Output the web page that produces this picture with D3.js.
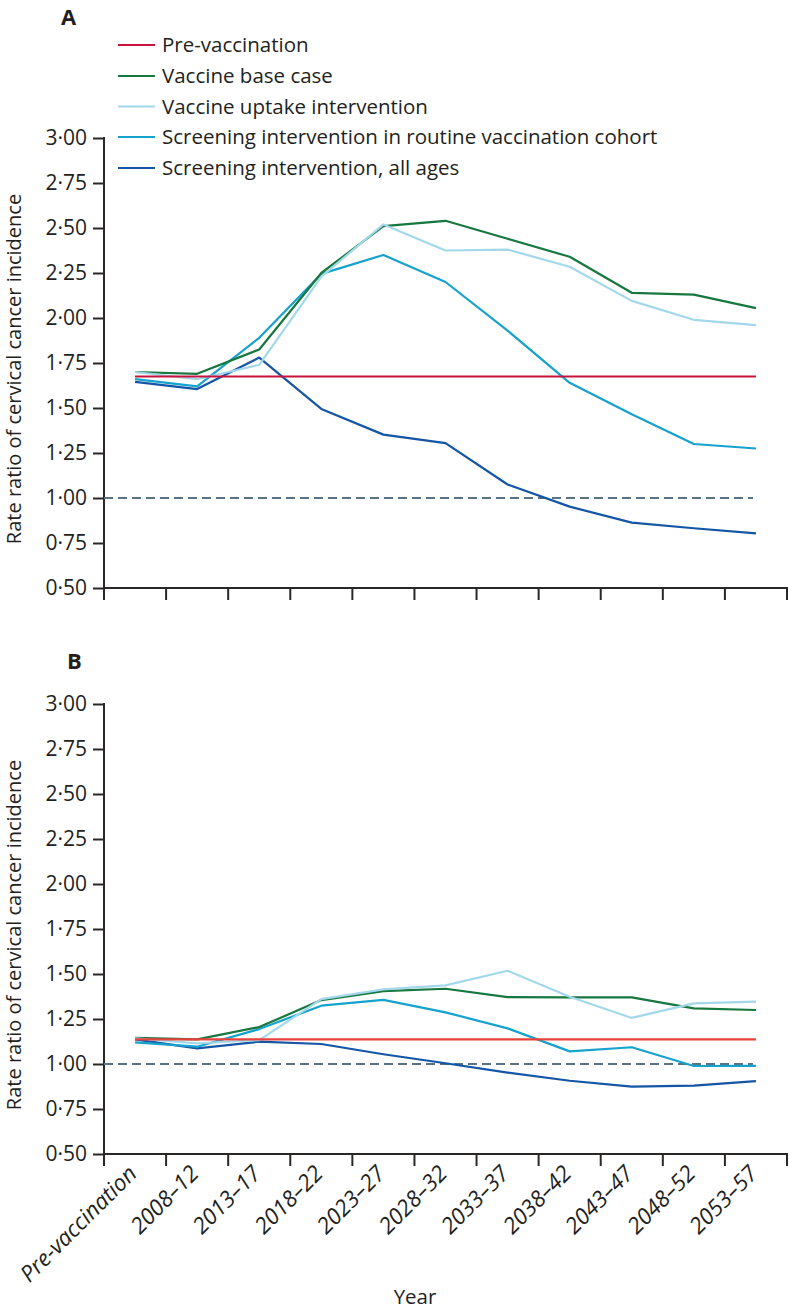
<!DOCTYPE html>
<html>
<head>
<meta charset="utf-8">
<script src="https://cdn.jsdelivr.net/npm/d3@7"></script>
<style>
  html, body { margin: 0; padding: 0; background: #ffffff; }
  svg { display: block; }
  text { font-family: "Open Sans", "Noto Sans", "DejaVu Sans", sans-serif; fill: #231f20; }
</style>
</head>
<body>
<svg id="chart" width="789" height="1309"></svg>
<script>
// ---------------- data ----------------
const categories = ["Pre-vaccination","2008–12","2013–17","2018–22","2023–27","2028–32","2033–37","2038–42","2043–47","2048–52","2053–57"];
const yTicks = [0.50,0.75,1.00,1.25,1.50,1.75,2.00,2.25,2.50,2.75,3.00];
const seriesNames = ["Pre-vaccination","Vaccine base case","Vaccine uptake intervention","Screening intervention in routine vaccination cohort","Screening intervention, all ages"];

// Panel A
const preVaccinationA   = [1.675,1.675,1.675,1.675,1.675,1.675,1.675,1.675,1.675,1.675,1.675];
const baseCaseA         = [1.70,1.69,1.825,2.25,2.51,2.54,2.44,2.34,2.14,2.13,2.055];
const uptakeA           = [1.70,1.66,1.74,2.23,2.52,2.375,2.38,2.285,2.095,1.99,1.96];
const screenCohortA     = [1.66,1.62,1.89,2.245,2.35,2.20,1.93,1.64,1.465,1.30,1.275];
const screenAllA        = [1.645,1.605,1.78,1.495,1.352,1.305,1.075,0.952,0.863,0.832,0.804];

// Panel B
const preVaccinationB   = [1.137,1.137,1.137,1.137,1.137,1.137,1.137,1.137,1.137,1.137,1.137];
const baseCaseB         = [1.145,1.137,1.205,1.355,1.405,1.418,1.372,1.37,1.37,1.309,1.30];
const uptakeB           = [1.143,1.115,1.133,1.36,1.415,1.437,1.518,1.374,1.256,1.337,1.346];
const screenCohortB     = [1.12,1.096,1.194,1.324,1.356,1.287,1.198,1.07,1.093,0.989,0.99];
const screenAllB        = [1.137,1.087,1.124,1.111,1.054,1.004,0.952,0.907,0.874,0.88,0.905];

const referenceValue = 1.00;

// ---------------- styles ----------------
const colors = {
  pre: "#c8143c",
  preB: "#e8403a",
  base: "#16773f",
  uptake: "#a3d8ea",
  cohort: "#15a2cd",
  all: "#1555a5",
  dash: "#5a7282",
  axis: "#2a2727"
};

const svg = d3.select("#chart");
const xLeft = 104, xRight = 787;
const x = d3.scaleBand().domain(categories).range([xLeft, xRight]).padding(0);
const xc = c => x(c) + x.bandwidth() / 2;
const fmt = v => d3.format(".2f")(v).replace(".", "·");

function panel(top, bottom, data, preColor, showLabels) {
  const y = d3.scaleLinear().domain([0.5, 3.0]).range([bottom, top]);
  const g = svg.append("g");

  // y axis
  const yAxis = d3.axisLeft(y).tickValues(yTicks).tickSize(11).tickPadding(6).tickFormat(fmt);
  const ya = g.append("g").attr("transform", `translate(${xLeft},0)`).call(yAxis);
  ya.select(".domain").remove();
  ya.selectAll(".tick line").attr("stroke", colors.axis).attr("stroke-width", 2);
  ya.selectAll(".tick text").style("font-size", "21px").attr("fill", "#231f20")
    .style("font-family", '"Open Sans", sans-serif');
  g.append("line").attr("x1", xLeft).attr("x2", xLeft).attr("y1", y(3.0) - 1).attr("y2", bottom + 12)
    .attr("stroke", colors.axis).attr("stroke-width", 2);

  // x axis line + ticks at band boundaries
  g.append("line").attr("x1", xLeft).attr("x2", xRight + 1).attr("y1", bottom).attr("y2", bottom)
    .attr("stroke", colors.axis).attr("stroke-width", 2);
  const bounds = categories.map(c => x(c)).concat([xRight]);
  g.selectAll(".xtick").data(bounds).join("line")
    .attr("x1", d => d).attr("x2", d => d).attr("y1", bottom).attr("y2", bottom + 12)
    .attr("stroke", colors.axis).attr("stroke-width", 2);

  if (showLabels) {
    g.selectAll(".xlab").data(categories).join("text")
      .attr("transform", d => `translate(${xc(d) + 3},${bottom + 21}) rotate(-45)`)
      .attr("text-anchor", "end")
      .style("font-size", "22.5px").style("font-style", "italic")
      .text(d => d);
  }

  // reference dashed line
  g.append("line").attr("x1", xLeft).attr("x2", 753)
    .attr("y1", y(referenceValue)).attr("y2", y(referenceValue))
    .attr("stroke", colors.dash).attr("stroke-width", 2).attr("stroke-dasharray", "9,5");

  const line = d3.line().x((d, i) => xc(categories[i])).y(d => y(d));
  const order = [
    [data.all, colors.all],
    [data.cohort, colors.cohort],
    [data.base, colors.base],
    [data.uptake, colors.uptake],
    [data.pre, preColor]
  ];
  order.forEach(([vals, col]) => {
    g.append("path").datum(vals).attr("d", line).attr("fill", "none")
      .attr("stroke", col).attr("stroke-width", 2.2).attr("stroke-linejoin", "round");
  });

  // y-axis title
  g.append("text")
    .attr("transform", `translate(21,${(top + bottom) / 2 + 6}) rotate(-90)`)
    .attr("text-anchor", "middle").style("font-size", "20px")
    .text("Rate ratio of cervical cancer incidence");
}

panel(138, 588, {pre: preVaccinationA, base: baseCaseA, uptake: uptakeA, cohort: screenCohortA, all: screenAllA}, colors.pre, false);
panel(704, 1154, {pre: preVaccinationB, base: baseCaseB, uptake: uptakeB, cohort: screenCohortB, all: screenAllB}, colors.preB, true);

// panel letters
svg.append("text").attr("x", 61).attr("y", 25).style("font-size", "22px").style("font-weight", "bold").text("A");
svg.append("text").attr("x", 67).attr("y", 669).style("font-size", "22px").style("font-weight", "bold").text("B");

// legend
const legColors = [colors.pre, colors.base, colors.uptake, colors.cohort, colors.all];
const legY = [45, 76, 106.5, 137, 168];
const leg = svg.append("g");
seriesNames.forEach((name, i) => {
  leg.append("line").attr("x1", 118).attr("x2", 155).attr("y1", legY[i]).attr("y2", legY[i])
    .attr("stroke", legColors[i]).attr("stroke-width", 2.2);
  leg.append("text").attr("x", 162).attr("y", legY[i] + 7).style("font-size", "20.5px").text(name);
});

// x-axis title
svg.append("text").attr("x", 415).attr("y", 1304).attr("text-anchor", "middle").style("font-size", "20.5px").text("Year");
</script>
</body>
</html>
